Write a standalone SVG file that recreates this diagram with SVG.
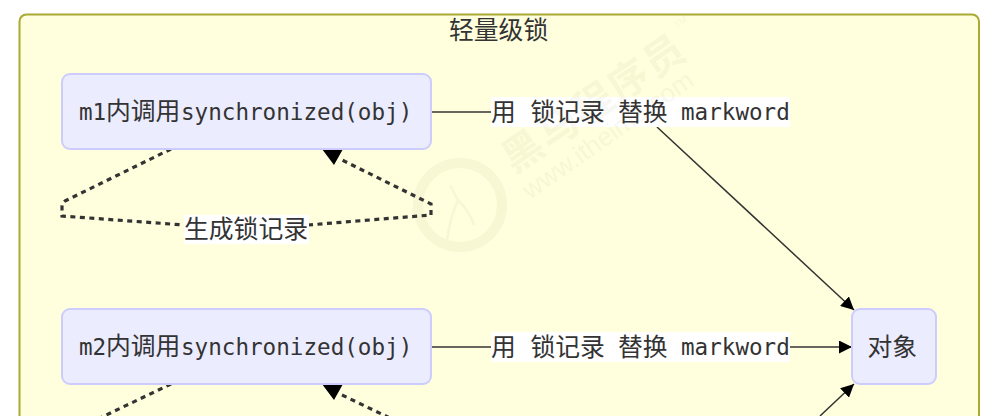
<svg xmlns="http://www.w3.org/2000/svg" width="1002" height="416" viewBox="0 0 1002 416">
<style>
text{fill:#333;font-family:"DejaVu Sans Mono","Noto Sans CJK SC",monospace;font-size:22.6px}
.cjk{font-family:"Noto Sans CJK SC","Noto Sans",sans-serif;font-size:24.8px}
.node{fill:#ECECFF;stroke:#CCCCFF;stroke-width:2}
.edge{fill:none;stroke:#333;stroke-width:1.5}
.dash{fill:none;stroke:#333;stroke-width:3.2;stroke-dasharray:5 4.500}
.bg{fill:#fff}
.wm{fill:#707040;font-family:"Noto Sans CJK SC",sans-serif}
</style>
<defs>
<marker id="arrow" markerUnits="userSpaceOnUse" viewBox="0 0 12 12" refX="12" refY="6" markerWidth="13" markerHeight="13" orient="auto"><path d="M0 0L12 6L0 12Z" fill="#000"/></marker>
</defs>
<rect id="cluster" x="19.500" y="14.500" width="959.500" height="440" rx="7" fill="#FFFFDE" stroke="#AAAA33" stroke-width="2"/>
<text class="cjk" x="449" y="39">轻量级锁</text>
<g id="connectors">
<path class="edge" d="M432 112H491"/>
<path class="edge" d="M657 127L854 310" marker-end="url(#arrow)"/>
<path class="edge" d="M432 347H491"/>
<path class="edge" d="M790 347H852" marker-end="url(#arrow)"/>
<path class="edge" d="M820 416L854 384" marker-end="url(#arrow)"/>
<path class="dash" d="M171 149L65 201Q62 203 62 206V216L184 225"/>
<path class="dash" d="M308 225L431 215V204L342 160"/>
<path class="dash" d="M171 384L100 418"/>
<path class="dash" d="M342 395L392 419"/>
<path d="M322 149H343L334 165Z" fill="#000"/>
<path d="M322 384H343L334 400Z" fill="#000"/>
</g>
<g id="node-m1">
<rect class="node" x="62" y="74" width="369" height="75" rx="8"/>
<text x="79" y="120">m1<tspan class="cjk" x="106">内调用</tspan><tspan x="181">synchronized(obj)</tspan></text>
</g>
<g id="node-m2">
<rect class="node" x="62" y="309" width="369" height="75" rx="8"/>
<text x="79" y="355">m2<tspan class="cjk" x="106">内调用</tspan><tspan x="181">synchronized(obj)</tspan></text>
</g>
<g id="node-obj">
<rect class="node" x="852" y="309" width="84" height="75" rx="8"/>
<text class="cjk" x="867.500" y="355.500">对象</text>
</g>
<g id="label-1">
<rect class="bg" x="491" y="97" width="299" height="30"/>
<text class="cjk" x="491" y="120.500">用</text><text class="cjk" x="530.500" y="120.500">锁记录</text><text class="cjk" x="618" y="120.500">替换</text><text x="681" y="120">markword</text>
</g>
<g id="label-2">
<rect class="bg" x="491" y="332" width="299" height="30"/>
<text class="cjk" x="491" y="355.500">用</text><text class="cjk" x="530.500" y="355.500">锁记录</text><text class="cjk" x="618" y="355.500">替换</text><text x="681" y="355">markword</text>
</g>
<g id="label-3">
<rect class="bg" x="184" y="215" width="125" height="29"/>
<text class="cjk" x="184" y="238">生成锁记录</text>
</g>
<g id="watermark" opacity="0.06">
<text class="wm" transform="translate(514 174) rotate(-34)" style="font-size:40px;font-weight:700" textLength="210">黑马程序员</text>
<text class="wm" transform="translate(677 28) rotate(-34)" style="font-size:9px;font-family:'Liberation Sans',sans-serif">TM</text>
<text class="wm" transform="translate(530 200) rotate(-35)" style="font-size:26px;font-family:'Liberation Sans',sans-serif">www.itheima.com</text>
<circle cx="460" cy="205" r="42" fill="none" stroke="#707040" stroke-width="10"/>
<path d="M447 240Q450 218 458 200M458 200Q470 212 474 225M458 200L450 185" fill="none" stroke="#707040" stroke-width="2.500"/>
</g>
</svg>
